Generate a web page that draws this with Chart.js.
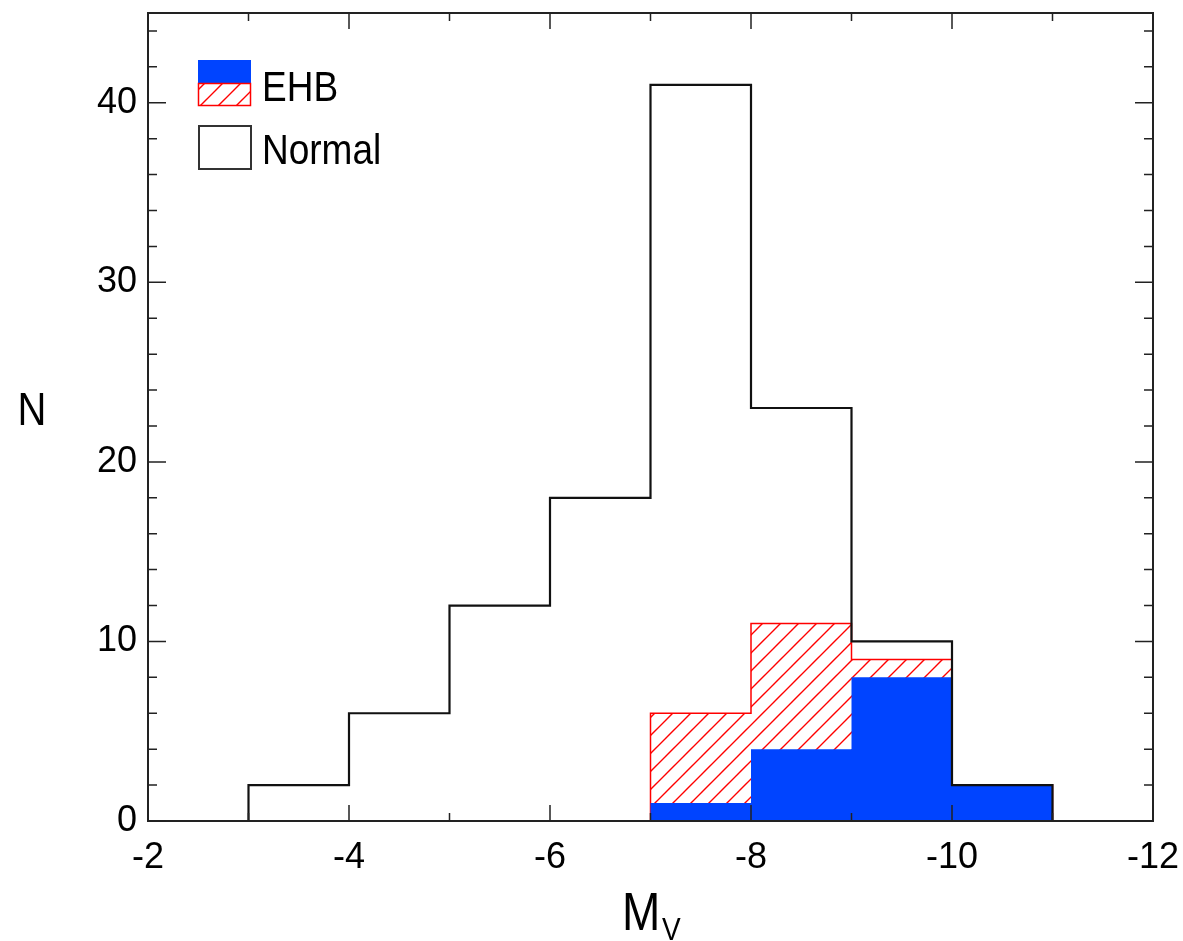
<!DOCTYPE html>
<html>
<head>
<meta charset="utf-8">
<script src="https://cdn.jsdelivr.net/npm/chart.js@4"></script>
<style>
  body { margin: 0; background: #fff; }
  #wrap { width: 1183px; height: 941px; position: relative; }
</style>
</head>
<body>
<div id="wrap"><canvas id="histChart"></canvas></div>
<script>
// Data
const binEdges = [-2, -3, -4, -5, -6, -7, -8, -9, -10, -11, -12];
const normalCounts = [0, 2, 6, 12, 18, 41, 23, 10, 2, 0];
const ehbCounts = [0, 0, 0, 0, 0, 6, 11, 9, 2, 0];      // hatched (all EHB)
const ehbBlueCounts = [0, 0, 0, 0, 0, 1, 4, 8, 2, 0];   // solid blue part
const xTicks = [-2, -4, -6, -8, -10, -12];
const yTicks = [0, 10, 20, 30, 40];
const yMax = 45;

const FONT = '"Liberation Sans", Arial, Helvetica, sans-serif';

// step points: each bin value at its left edge, plus closing point at the last edge
function toSteps(counts) {
    const pts = counts.map((c, i) => ({ x: binEdges[i], y: c }));
    pts.push({ x: binEdges[binEdges.length - 1], y: counts[counts.length - 1] });
    return pts;
}

function hatchPattern() {
    const c = document.createElement('canvas');
    c.width = 18; c.height = 18;
    const g = c.getContext('2d');
    g.strokeStyle = '#ff0000';
    g.lineWidth = 1.4;
    g.beginPath();
    g.moveTo(-2, 20); g.lineTo(20, -2);
    g.moveTo(-2, 2); g.lineTo(2, -2);
    g.moveTo(16, 20); g.lineTo(20, 16);
    g.stroke();
    return g.createPattern(c, 'repeat');
}
const hatch = hatchPattern();

// drop the extra room Chart.js keeps for overhanging tick labels
function noPad(s) {
    s.paddingTop = 0; s.paddingBottom = 0;
    s.paddingLeft = 0; s.paddingRight = 0;
}

// text slightly taller than wide, like the original plot
function tallText(ctx, txt, x, y) {
    ctx.save();
    ctx.translate(x, y);
    ctx.scale(1, 1.15);
    ctx.fillText(txt, 0, 0);
    ctx.restore();
}

// frame, inward ticks, axis titles and legend
const decorations = {
    id: 'decorations',
    afterDraw(chart) {
        const ctx = chart.ctx;
        const a = chart.chartArea;
        const xs = chart.scales.x, ys = chart.scales.y;
        ctx.save();
        ctx.strokeStyle = '#222';
        ctx.lineWidth = 2;
        ctx.strokeRect(a.left, a.top, a.right - a.left, a.bottom - a.top);

        ctx.lineWidth = 1.5;
        ctx.beginPath();
        for (let v = -2; v >= -12; v--) {
            const px = xs.getPixelForValue(v);
            const len = (v % 2 === 0) ? 16 : 8;
            ctx.moveTo(px, a.bottom); ctx.lineTo(px, a.bottom - len);
            ctx.moveTo(px, a.top); ctx.lineTo(px, a.top + len);
        }
        for (let v = 0; v <= yMax; v += 2) {
            const py = ys.getPixelForValue(v);
            const len = (v % 10 === 0) ? 18 : 9;
            ctx.moveTo(a.left, py); ctx.lineTo(a.left + len, py);
            ctx.moveTo(a.right, py); ctx.lineTo(a.right - len, py);
        }
        ctx.stroke();

        // axis titles
        ctx.fillStyle = '#000';
        ctx.textBaseline = 'alphabetic';
        ctx.textAlign = 'center';
        ctx.font = '40px ' + FONT;
        tallText(ctx, 'N', 32, 425);
        ctx.textAlign = 'left';
        ctx.font = '46px ' + FONT;
        tallText(ctx, 'M', 622, 930);
        ctx.font = '28px ' + FONT;
        tallText(ctx, 'V', 662, 940);

        // legend
        ctx.fillStyle = '#0044ff';
        ctx.fillRect(198, 60, 53, 23);
        ctx.fillStyle = hatch;
        ctx.fillRect(198, 83, 53, 23);
        ctx.strokeStyle = '#ff0000';
        ctx.lineWidth = 1.5;
        ctx.strokeRect(198.5, 83.5, 52, 22);
        ctx.strokeStyle = '#333';
        ctx.lineWidth = 2;
        ctx.strokeRect(199, 126, 52, 43);
        ctx.fillStyle = '#000';
        ctx.font = '37px ' + FONT;
        tallText(ctx, 'EHB', 262, 101);
        tallText(ctx, 'Normal', 262, 164);
        ctx.restore();
    }
};

const ctx = document.getElementById('histChart').getContext('2d');
const histChart = new Chart(ctx, {
    type: 'line',
    data: {
        datasets: [
            {
                label: 'Normal',
                data: toSteps(normalCounts),
                stepped: 'before',
                borderColor: '#111',
                borderWidth: 2.2,
                fill: false,
            },
            {
                label: 'EHB',
                data: toSteps(ehbBlueCounts),
                stepped: 'before',
                borderColor: '#0044ff',
                borderWidth: 0,
                backgroundColor: '#0044ff',
                fill: 'origin',
            },
            {
                label: 'EHB (all)',
                data: toSteps(ehbCounts),
                stepped: 'before',
                borderColor: '#ff0000',
                borderWidth: 1.5,
                backgroundColor: hatch,
                fill: 'origin',
            },
        ],
    },
    options: {
        responsive: true,
        maintainAspectRatio: false,
        animation: false,
        parsing: false,
        elements: { point: { radius: 0 } },
        layout: { padding: { top: 13, right: 30, left: 0, bottom: 0 } },
        plugins: {
            legend: { display: false },
            tooltip: { enabled: false },
        },
        scales: {
            x: {
                type: 'linear',
                min: -12,
                max: -2,
                reverse: true,
                afterBuildTicks: s => { s.ticks = xTicks.map(v => ({ value: v })); },
                afterFit: s => { s.height = 120; noPad(s); },
                grid: { display: false, drawTicks: false },
                border: { display: false },
                ticks: {
                    color: '#000',
                    padding: 15,
                    maxRotation: 0,
                    font: { family: FONT, size: 36 },
                },
            },
            y: {
                min: 0,
                max: yMax,
                afterBuildTicks: s => { s.ticks = yTicks.map(v => ({ value: v })); },
                afterFit: s => { s.width = 148; noPad(s); },
                grid: { display: false, drawTicks: false },
                border: { display: false },
                ticks: {
                    color: '#000',
                    padding: 11,
                    font: { family: FONT, size: 36 },
                },
            },
        },
    },
    plugins: [decorations],
});
</script>
</body>
</html>
